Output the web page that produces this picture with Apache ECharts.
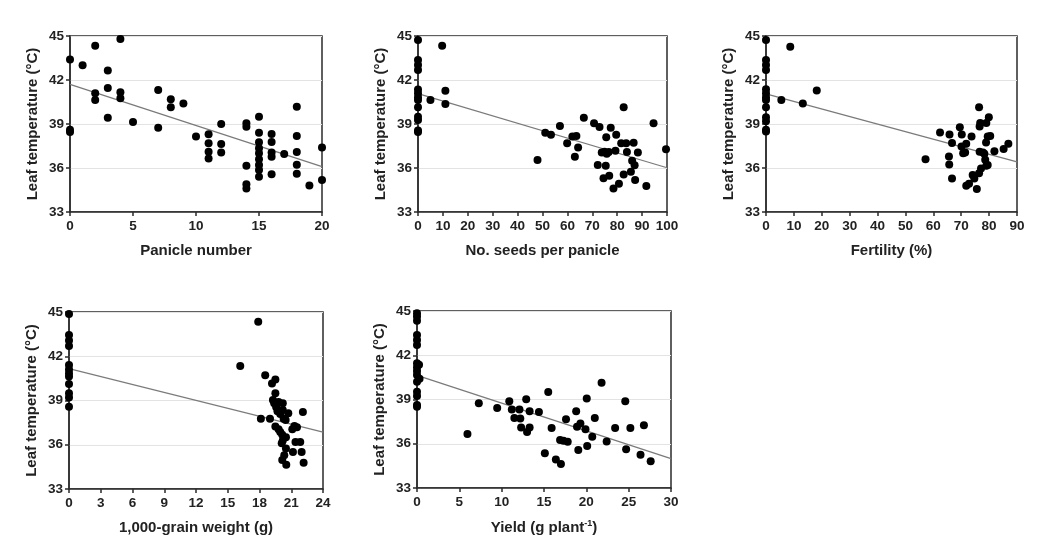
<!DOCTYPE html>
<html>
<head>
<meta charset="utf-8">
<script src="https://cdn.jsdelivr.net/npm/echarts@6/dist/echarts.min.js"></script>
<style>
html,body{margin:0;padding:0;background:#fff;}
#c{width:1053px;height:557px;}
</style>
</head>
<body>
<div id="c"></div>
<script>
// ---------- Data ----------
var yTicks = [33, 36, 39, 42, 45];

// Panel 1: Panicle number
var p1X = [0,0,0,1,2,2,2,3,3,3,4,4,4,5,7,7,8,8,9,10,11,11,11,11,12,12,12,14,14,14,14,14,15,15,15,15,15,15,15,15,15,16,16,16,16,16,17,18,18,18,18,18,19,20,20];
var p1Y = [43.4,38.6,38.45,43.0,44.34,41.1,40.64,42.64,41.45,39.43,44.8,41.16,40.75,39.14,41.32,38.75,40.68,40.14,40.39,38.14,38.3,37.68,37.11,36.64,39.0,37.64,37.05,39.05,38.82,36.16,34.9,34.6,39.5,38.4,37.75,37.34,37.0,36.6,36.2,35.86,35.4,38.32,37.77,37.05,36.77,35.57,36.95,40.18,38.18,37.09,36.23,35.6,34.8,37.39,35.18];
var line1X = [0, 20];
var line1Y = [41.7, 36.09];

// Panel 2: No. seeds per panicle
var p2X = [0,0,0,0,0,0,0,0,0,0,0,0,0,5,9.7,11,11,48,51.1,53.4,57,59.9,62,63.6,63,64.3,66.6,70.7,72.9,72.2,73.8,74.5,74.9,75.6,75.4,75.8,76.6,76.8,77.4,78.5,79.6,79.3,80.7,81.6,82.6,82.6,83.6,83.9,85.5,86.0,86.6,87.0,87.2,88.3,91.7,94.6,99.6];
var p2Y = [44.73,43.36,43.02,42.68,41.36,41.09,40.82,40.64,40.14,39.5,39.27,38.55,38.45,40.64,44.34,41.27,40.36,36.55,38.41,38.27,38.86,37.68,38.14,38.18,36.77,37.39,39.43,39.05,38.8,36.2,37.05,35.3,37.11,38.09,36.16,36.98,37.09,35.48,38.75,34.6,38.27,37.18,34.93,37.68,40.14,35.55,37.68,37.09,35.75,36.5,37.73,36.18,35.18,37.05,34.77,39.05,37.27];
var line2X = [0, 100];
var line2Y = [41.07, 36.02];

// Panel 3: Fertility (%)
var p3X = [0,0,0,0,0,0,0,0,0,0,0,0,0,5.5,8.7,13.2,18.2,57.2,62.4,65.8,65.6,65.7,66.7,66.7,69.5,70.2,70.1,70.7,71.4,71.8,71.8,72.8,73.7,74.1,74.7,75.6,76.4,76.4,76.6,76.8,76.6,77.1,77.8,78.3,78.6,79.0,78.9,79.0,79.5,79.9,79.5,80.4,81.9,85.2,86.9];
var p3Y = [44.73,43.37,43.03,42.69,41.37,41.1,40.83,40.64,40.15,39.46,39.19,38.6,38.49,40.64,44.27,40.39,41.28,36.6,38.42,38.28,36.79,36.24,37.7,35.29,38.78,38.28,37.47,37.01,37.06,37.65,34.79,34.93,38.15,35.52,35.29,34.56,40.15,35.65,38.83,39.06,37.1,35.97,37.06,36.97,36.56,39.06,37.74,36.15,36.2,39.46,38.15,38.19,37.15,37.29,37.65];
var line3X = [0, 90];
var line3Y = [41.05, 36.42];

// Panel 4: 1,000-grain weight (g)
var p4X = [0,0,0,0,0,0,0,0,0,0,0,0,17.88,16.18,18.13,18.54,18.99,19.18,19.5,19.5,19.27,19.39,19.58,19.7,19.8,19.96,20.2,20.2,19.5,19.8,19.96,20.15,20.2,20.1,20.28,20.47,20.5,20.5,20.34,20.15,20.53,20.72,21.1,21.3,21.54,21.16,21.4,21.85,21.98,22.1,22.17];
var p4Y = [44.86,43.44,43.06,42.7,41.41,41.11,40.84,40.62,40.12,39.49,39.21,38.58,44.34,41.34,37.77,40.71,37.77,40.16,40.43,39.49,39.03,38.81,38.54,38.27,38.9,38.08,38.81,38.36,37.23,37.05,36.86,36.68,36.28,36.1,37.77,37.68,36.51,35.74,35.28,34.97,34.65,38.13,37.05,37.27,37.18,35.51,36.19,36.19,35.51,38.22,34.78];
var line4X = [0, 24];
var line4Y = [41.16, 36.86];

// Panel 5: Yield (g plant-1)
var p5X = [0,0,0,0,0,0,0,0,0,0,0,0,0,0,0,0.24,0.3,5.96,7.3,9.47,10.9,11.2,11.5,12.1,12.2,12.3,12.9,13.0,13.3,13.3,14.4,15.1,15.5,15.9,16.4,16.9,17.0,17.3,17.6,17.8,18.8,18.9,19.05,19.3,19.9,20.05,20.1,20.7,21.0,21.8,22.4,23.4,24.6,24.7,25.2,26.4,26.8,27.6];
var p5Y = [44.84,44.62,44.34,43.37,43.03,42.69,41.45,41.18,40.93,40.66,40.21,39.53,39.24,38.63,38.51,41.36,40.41,36.66,38.74,38.42,38.88,38.33,37.75,38.33,37.72,37.11,39.01,36.8,37.1,38.2,38.15,35.35,39.51,37.07,34.94,36.25,34.63,36.2,37.66,36.14,38.2,37.16,35.58,37.38,36.98,39.06,35.85,36.48,37.75,40.14,36.16,37.07,38.88,35.62,37.07,35.26,37.25,34.81];
var line5X = [0, 30];
var line5Y = [40.64, 34.99];

var xMax = [20, 100, 90, 24, 30];
var xInterval = [5, 10, 10, 3, 5];
var xNames = ['Panicle number', 'No. seeds per panicle', 'Fertility (%)', '1,000-grain weight (g)', 'Yield (g plant{sup|-1})'];
var yName = 'Leaf temperature (\u00B0C)';

// ---------- Build ----------
var panels = [
  {x: p1X, y: p1Y, lx: line1X, ly: line1Y},
  {x: p2X, y: p2Y, lx: line2X, ly: line2Y},
  {x: p3X, y: p3Y, lx: line3X, ly: line3Y},
  {x: p4X, y: p4Y, lx: line4X, ly: line4Y},
  {x: p5X, y: p5Y, lx: line5X, ly: line5Y}
];
var grids = [
  {left: 70, top: 36, width: 252, height: 176},
  {left: 418, top: 36, width: 249, height: 176},
  {left: 766, top: 36, width: 251, height: 176},
  {left: 69, top: 312, width: 254, height: 177},
  {left: 417, top: 311, width: 254, height: 177}
];
var FONT = 'Liberation Sans, Arial, sans-serif';
var axisColor = '#2b2b2b';

var option = {
  backgroundColor: '#fff',
  animation: false,
  grid: [], xAxis: [], yAxis: [], series: []
};

function zip(a, b) { return a.map(function (v, i) { return [v, b[i]]; }); }

panels.forEach(function (p, i) {
  var g = grids[i];
  option.grid.push({left: g.left, top: g.top, width: g.width, height: g.height,
    show: true, borderColor: axisColor, borderWidth: 1.5, backgroundColor: 'transparent'});
  option.xAxis.push({
    type: 'value', gridIndex: i, min: 0, max: xMax[i], interval: xInterval[i],
    name: xNames[i], nameLocation: 'middle', nameGap: 31,
    nameTextStyle: {fontFamily: FONT, fontSize: 15, fontWeight: 'bold', color: '#222',
      rich: {sup: {fontFamily: FONT, fontSize: 9, fontWeight: 'bold', color: '#222', verticalAlign: 'top', padding: [0, 0, 8, 0]}}},
    axisLine: {show: true, lineStyle: {color: axisColor, width: 1.5}},
    axisTick: {show: true, length: 4, lineStyle: {color: axisColor, width: 1.5}},
    axisLabel: {fontFamily: FONT, fontSize: 13.5, fontWeight: 'bold', color: '#222', margin: 7},
    splitLine: {show: false}
  });
  option.yAxis.push({
    type: 'value', gridIndex: i, min: 33, max: 45, interval: 3,
    name: yName, nameLocation: 'middle', nameGap: 30, nameRotate: 90,
    nameTextStyle: {fontFamily: FONT, fontSize: 15, fontWeight: 'bold', color: '#222'},
    axisLine: {show: true, lineStyle: {color: axisColor, width: 1.5}},
    axisTick: {show: true, length: 4, lineStyle: {color: axisColor, width: 1.5}},
    axisLabel: {fontFamily: FONT, fontSize: 13.5, fontWeight: 'bold', color: '#222', margin: 6},
    splitLine: {show: true, lineStyle: {color: '#e3e3e3', width: 1}}
  });
  option.series.push({
    type: 'scatter', xAxisIndex: i, yAxisIndex: i,
    data: zip(p.x, p.y), symbolSize: 8,
    itemStyle: {color: '#000', opacity: 1}, z: 3
  });
  option.series.push({
    type: 'line', xAxisIndex: i, yAxisIndex: i,
    data: zip(p.lx, p.ly), symbol: 'none',
    lineStyle: {color: '#7a7a7a', width: 1.2}, z: 2
  });
});

var chart = echarts.init(document.getElementById('c'), null, {renderer: 'canvas'});
chart.setOption(option);
</script>
</body>
</html>
